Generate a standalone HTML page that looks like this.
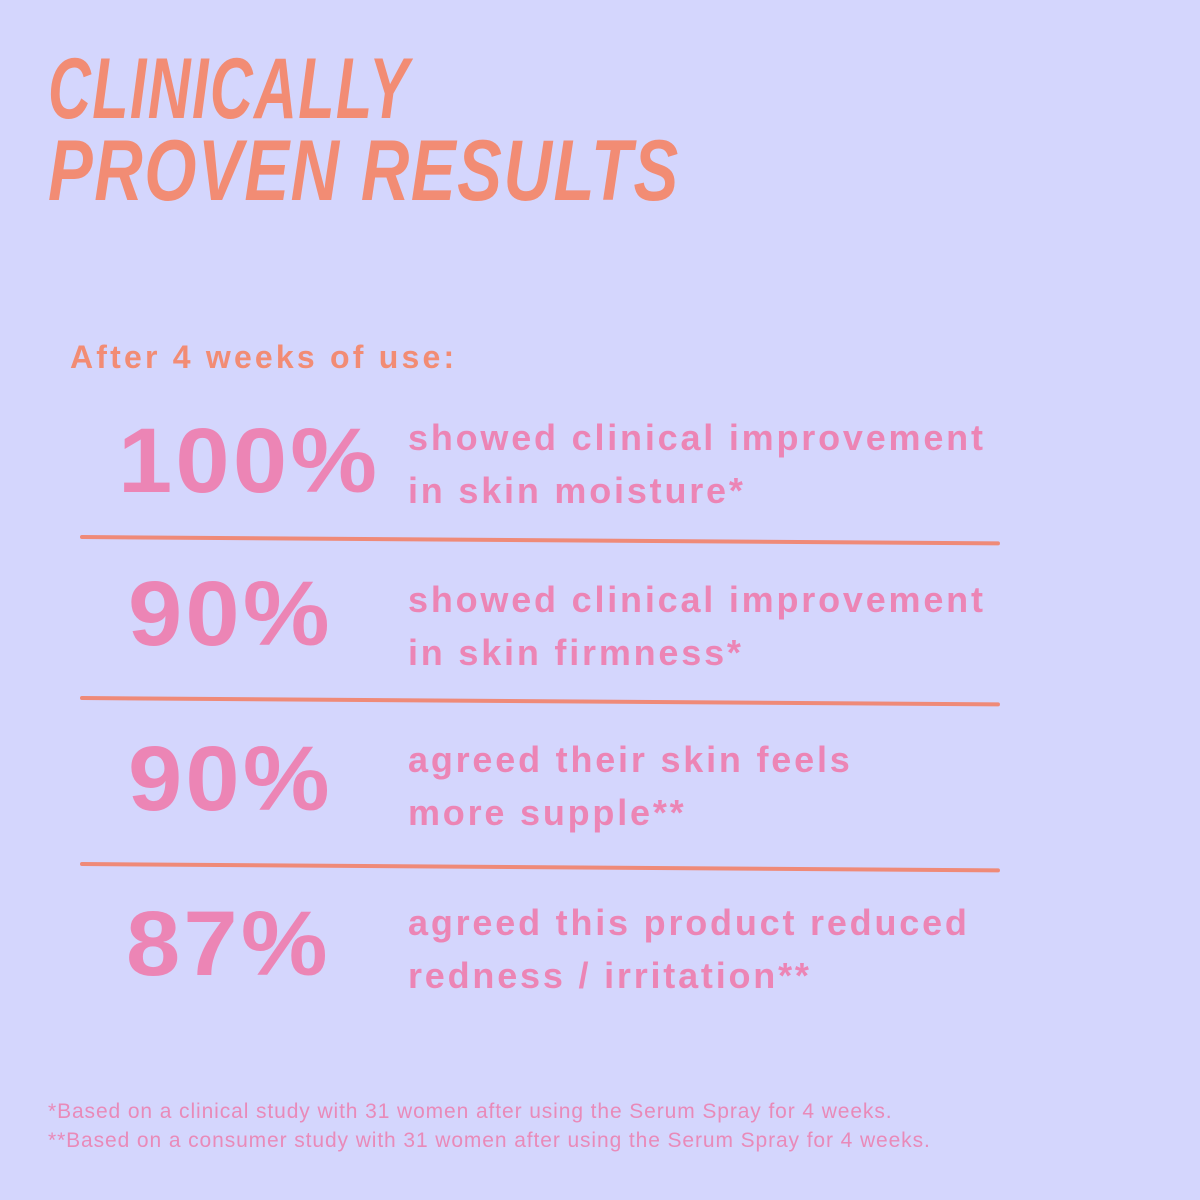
<!DOCTYPE html>
<html><head><meta charset="utf-8"><style>
body{margin:0;width:1200px;height:1200px;background:#d4d6fd;position:relative;overflow:hidden;font-family:"Liberation Sans",sans-serif}
.t{position:absolute;left:48px;color:#f28c74;font-family:"Liberation Sans Narrow","Liberation Sans",sans-serif;font-style:italic;font-weight:bold;font-size:86px;line-height:1;transform-origin:left top;letter-spacing:2px;white-space:nowrap}
.a{position:absolute;left:70px;top:339px;color:#f28c74;font-weight:bold;font-size:32px;letter-spacing:3.2px;white-space:nowrap}
.n{position:absolute;color:#ec85b5;font-weight:bold;font-size:92px;line-height:1;letter-spacing:3px;transform-origin:left top;transform:scaleX(1.06);white-space:nowrap}
.d{position:absolute;left:408px;color:#ec85b5;font-weight:bold;font-size:36px;line-height:53px;letter-spacing:2.8px;white-space:nowrap}
.l{position:absolute;left:80px;width:920px;height:4px;background:#ef8a78;border-radius:2px;transform-origin:left center;transform:rotate(.4deg)}
.f{position:absolute;left:48px;top:1097px;color:#e98ab9;font-size:21px;line-height:29px;letter-spacing:0.9px;white-space:nowrap}
</style></head><body>
<div class="t" style="top:46px;transform:scaleX(.69)">CLINICALLY</div>
<div class="t" style="top:128px;transform:scaleX(.78)">PROVEN RESULTS</div>
<div class="a">After 4 weeks of use:</div>
<div class="n" style="left:118px;top:415px">100%</div>
<div class="d" style="top:411px">showed clinical improvement<br>in skin moisture*</div>
<div class="l" style="top:535px"></div>
<div class="n" style="left:128px;top:568px">90%</div>
<div class="d" style="top:573px">showed clinical improvement<br>in skin firmness*</div>
<div class="l" style="top:696px"></div>
<div class="n" style="left:128px;top:733px">90%</div>
<div class="d" style="top:733px">agreed their skin feels<br>more supple**</div>
<div class="l" style="top:862px"></div>
<div class="n" style="left:126px;top:898px">87%</div>
<div class="d" style="top:896px">agreed this product reduced<br>redness / irritation**</div>
<div class="f">*Based on a clinical study with 31 women after using the Serum Spray for 4 weeks.<br>**Based on a consumer study with 31 women after using the Serum Spray for 4 weeks.</div>
</body></html>
